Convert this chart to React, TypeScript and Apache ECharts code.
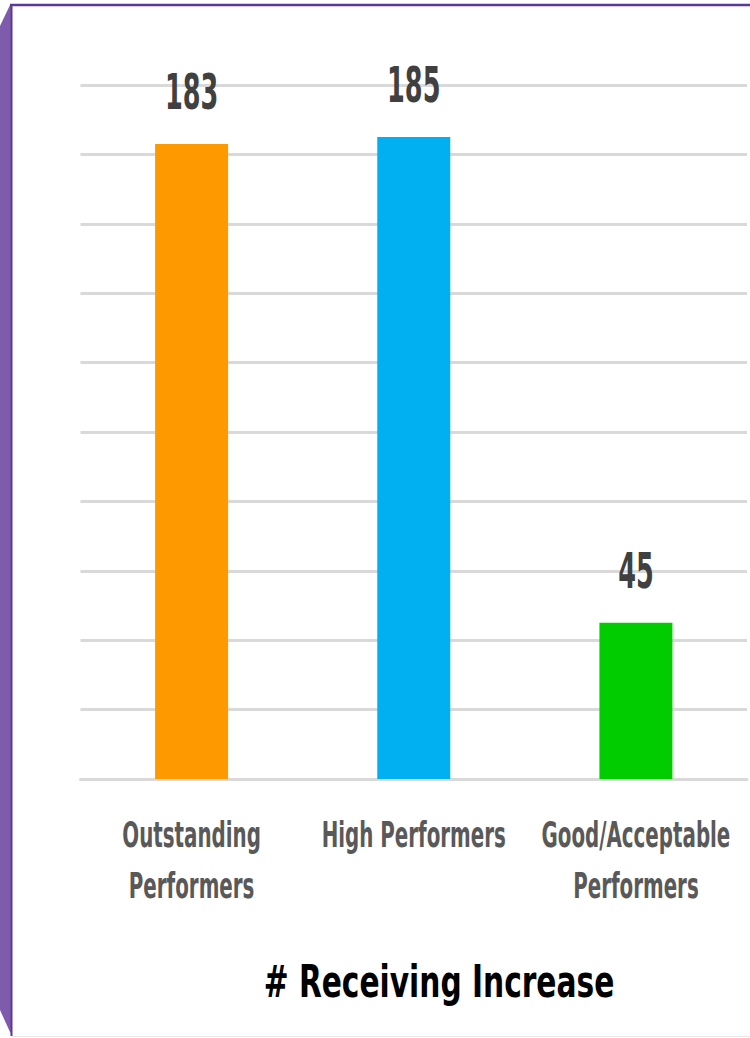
import React, { useEffect, useRef } from "react";
import * as echarts from "echarts";

const categories = ["Outstanding\nPerformers", "High Performers", "Good/Acceptable\nPerformers"];
const values = [183, 185, 45];
const barColors = ["#FF9900", "#00B0F0", "#00CC00"];
const yTicks = [0, 20, 40, 60, 80, 100, 120, 140, 160, 180, 200];
const axisTitle = "# Receiving Increase";

const FONT = "'DejaVu Sans Condensed', 'DejaVu Sans', sans-serif";

export default function App() {
  const ref = useRef<HTMLDivElement>(null);
  useEffect(() => {
    document.body.style.margin = "0";
    const chart = echarts.init(ref.current!, null, { renderer: "svg" });
    chart.setOption({
      animation: false,
      backgroundColor: "#ffffff",
      grid: { left: 80.5, right: 3, top: 85, bottom: 259, containLabel: false, outerBoundsMode: "none" },
      xAxis: {
        type: "category",
        data: categories,
        axisLine: { show: true, lineStyle: { color: "#D9D9D9", width: 3 } },
        axisTick: { show: false },
        axisLabel: { show: false },
      },
      yAxis: {
        type: "value",
        min: yTicks[0],
        max: yTicks[yTicks.length - 1],
        interval: 20,
        axisLine: { show: false },
        axisTick: { show: false },
        axisLabel: { show: false },
        splitLine: { lineStyle: { color: "#D9D9D9", width: 3 } },
      },
      series: [
        {
          type: "bar",
          barWidth: 73,
          data: values.map((v, i) => ({ value: v, itemStyle: { color: barColors[i] } })),
          label: { show: false },
        },
      ],
    });

    const texts: any[] = [];
    categories.forEach((cat, i) => {
      const cx = chart.convertToPixel({ xAxisIndex: 0 }, i) as number;
      const top = chart.convertToPixel({ seriesIndex: 0 }, [i, values[i]]) as number[];
      texts.push({
        type: "text",
        x: cx,
        y: top[1] - 52,
        scaleX: 0.58,
        style: {
          text: String(values[i]),
          fill: "#404040",
          font: "bold 49px " + FONT,
          align: "center",
          verticalAlign: "middle",
        },
      });
      cat.split("\n").forEach((line, j) => {
        texts.push({
          type: "text",
          x: cx,
          y: 835 + j * 51.5,
          scaleX: 0.63,
          style: {
            text: line,
            fill: "#595959",
            font: "bold 35px " + FONT,
            align: "center",
            verticalAlign: "middle",
          },
        });
      });
    });

    chart.setOption({
      graphic: [
        ...texts,
        {
          type: "polygon",
          shape: { points: [[0, 26], [10, 5], [12, 5], [12, 1034], [10, 1032], [0, 1010]] },
          style: { fill: "#7F5CAB" },
          z: 10,
        },
        {
          type: "line",
          shape: { x1: 11.5, y1: 5, x2: 11.5, y2: 1036 },
          style: { stroke: "#5B3A95", lineWidth: 2 },
          z: 11,
        },
        {
          type: "line",
          shape: { x1: 10, y1: 5, x2: 750, y2: 5 },
          style: { stroke: "#5B3A95", lineWidth: 2.5 },
          z: 11,
        },
        {
          type: "line",
          shape: { x1: 12, y1: 1036.5, x2: 750, y2: 1036.5 },
          style: { stroke: "#E6E6E6", lineWidth: 1 },
          z: 11,
        },
        {
          type: "text",
          x: 439,
          y: 982,
          scaleX: 0.75,
          style: {
            text: axisTitle,
            fill: "#000000",
            font: "bold 44px " + FONT,
            align: "center",
            verticalAlign: "middle",
          },
        },
      ],
    });
    return () => chart.dispose();
  }, []);
  return <div ref={ref} style={{ position: "absolute", left: 0, top: 0, width: 750, height: 1038 }} />;
}
